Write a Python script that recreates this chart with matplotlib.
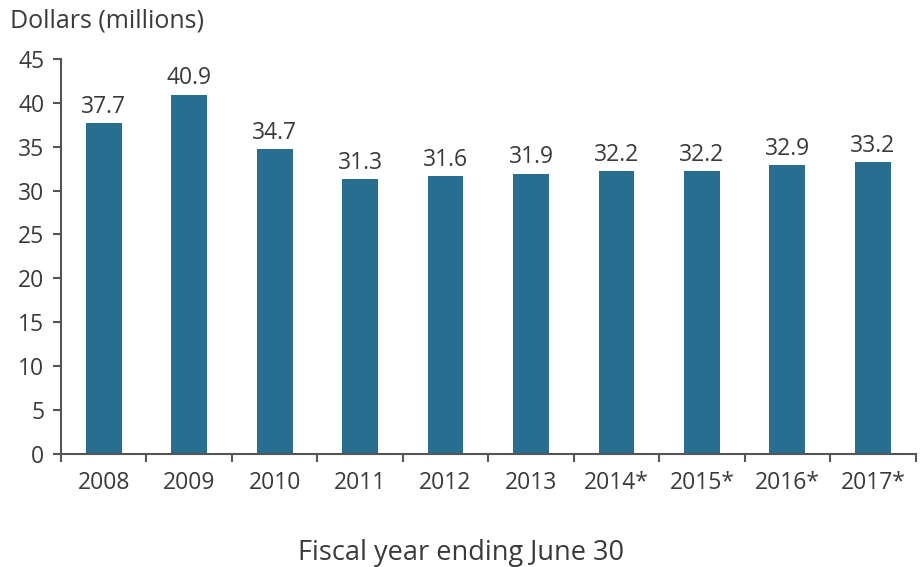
import matplotlib
matplotlib.use("Agg")
import matplotlib.pyplot as plt
import numpy as np

years = ["2008", "2009", "2010", "2011", "2012", "2013", "2014*", "2015*", "2016*", "2017*"]
values = [37.7, 40.9, 34.7, 31.3, 31.6, 31.9, 32.2, 32.2, 32.9, 33.2]
yticks = [0, 5, 10, 15, 20, 25, 30, 35, 40, 45]

plt.rcParams['font.family'] = ['Open Sans', 'DejaVu Sans']
txt = '#3a3a3a'
bar_color = '#276E90'

fig = plt.figure(figsize=(9.23, 5.67), dpi=100)
ax = fig.add_axes([0.066, 0.1993, 0.926, 0.697])
x = np.arange(len(years))
ax.bar(x, values, width=0.42, color=bar_color, zorder=2)
for xi, v in zip(x, values):
    ax.text(xi, v + 0.5, f"{v:.1f}", ha='center', va='bottom', fontsize=16.5, color=txt)

ax.set_xlim(-0.5, len(years) - 0.5)
ax.set_ylim(0, 45)
ax.set_yticks(yticks)
ax.set_yticklabels([str(t) for t in yticks], fontsize=16.5, color=txt)
ax.set_xticks(x)
ax.set_xticklabels(years, fontsize=16.5, color=txt)
ax.tick_params(axis='x', length=0, pad=12)
ax.set_xticks(np.arange(len(years) + 1) - 0.5, minor=True)
ax.tick_params(axis='x', which='minor', length=6, direction='out', color='#555555', width=1.5)
ax.tick_params(axis='y', length=6, direction='out', color='#555555', width=1.5, pad=6)
for s in ['top', 'right']:
    ax.spines[s].set_visible(False)
for s in ['left', 'bottom']:
    ax.spines[s].set_color('#555555')
    ax.spines[s].set_linewidth(1.5)

fig.text(0.011, 0.963, "Dollars (millions)", fontsize=18, color=txt, ha='left', va='center')
fig.text(0.50, 0.025, "Fiscal year ending June 30", fontsize=19.5, color=txt, ha='center', va='center')

fig.savefig("out.png", dpi=100)
